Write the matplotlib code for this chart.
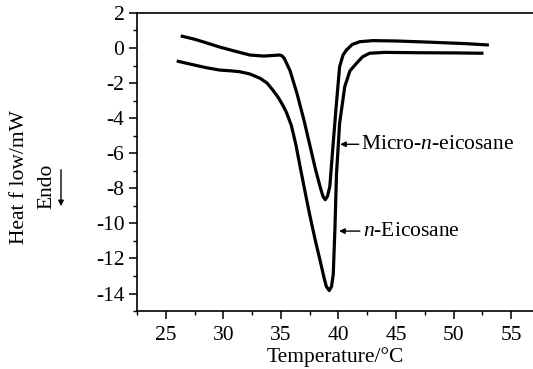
import matplotlib
matplotlib.use("Agg")
import matplotlib.pyplot as plt
from matplotlib.ticker import MultipleLocator

plt.rcParams['font.family'] = ['Liberation Serif', 'DejaVu Serif']
plt.rcParams['mathtext.fontset'] = 'custom'
plt.rcParams['mathtext.it'] = 'Liberation Serif:italic'
plt.rcParams['mathtext.rm'] = 'Liberation Serif'

# Micro-n-eicosane (upper curve)
micro_t = [26.3, 27.5, 28.5, 29.7, 31.0, 32.3, 33.5, 34.5, 34.9, 35.1, 35.3,
           35.8, 36.4, 37.0, 37.5, 38.0, 38.4, 38.65, 38.85, 39.05, 39.25,
           39.5, 39.8, 40.1, 40.4, 40.7, 41.2, 41.85, 43.0, 45.0, 48.0, 51.0, 53.07]
micro_h = [0.69, 0.5, 0.3, 0.05, -0.18, -0.4, -0.46, -0.42, -0.4, -0.45, -0.6,
           -1.3, -2.6, -4.1, -5.5, -6.9, -7.9, -8.45, -8.65, -8.45, -7.9,
           -5.8, -3.35, -1.07, -0.4, -0.11, 0.2, 0.36, 0.42, 0.4, 0.33, 0.25, 0.17]

# n-Eicosane (lower curve)
eico_t = [25.95, 27.0, 28.5, 29.7, 30.6, 31.4, 32.3, 33.2, 33.8, 34.3, 34.8,
          35.2, 35.5, 35.9, 36.3, 36.65, 37.1, 37.5, 38.0, 38.4, 38.75, 38.95,
          39.2, 39.4, 39.55, 39.7, 39.83, 40.1, 40.55, 41.0, 41.56, 42.1, 42.7,
          44.0, 47.0, 50.0, 52.6]
eico_h = [-0.74, -0.9, -1.12, -1.26, -1.3, -1.35, -1.48, -1.73, -2.0, -2.4, -2.85,
          -3.3, -3.7, -4.4, -5.5, -6.7, -8.2, -9.5, -11.0, -12.1, -13.1, -13.6,
          -13.83, -13.6, -12.9, -10.2, -7.2, -4.3, -2.2, -1.3, -0.88, -0.5, -0.3,
          -0.25, -0.27, -0.28, -0.3]

fig = plt.figure(figsize=(5.33, 3.69), dpi=100)
ax = fig.add_axes([0.257, 0.157, 0.743, 0.808])

ax.plot(micro_t, micro_h, color='black', lw=2.3, solid_capstyle='butt')
ax.plot(eico_t, eico_h, color='black', lw=2.3, solid_capstyle='butt')

ax.set_xlim(22.5, 56.9)
ax.set_ylim(-15, 2)
ax.xaxis.set_major_locator(MultipleLocator(5))
ax.xaxis.set_minor_locator(MultipleLocator(2.5))
ax.yaxis.set_major_locator(MultipleLocator(2))
ax.yaxis.set_minor_locator(MultipleLocator(1))
ax.spines['right'].set_visible(False)
for s in ['left', 'top', 'bottom']:
    ax.spines[s].set_linewidth(1.2)
ax.tick_params(which='major', direction='out', length=6, width=1.1, labelsize=15.5)
ax.tick_params(axis='x', which='major', pad=5)
ax.tick_params(axis='y', which='major', pad=3)
ax.tick_params(which='minor', direction='out', length=3, width=1.0)
ax.set_yticklabels([f"{int(v)}" for v in ax.get_yticks()])

ax.set_xlabel('Temperature/\u00b0C', fontsize=15.5, labelpad=1)

ax.annotate('Micro-$n$-eicosane', xy=(40.15, -5.49), xytext=(42.0, -5.49),
            fontsize=15.5, va='center', ha='left',
            arrowprops=dict(arrowstyle='-|>', color='black', lw=1.0,
                            mutation_scale=8, shrinkA=0, shrinkB=0))
ax.annotate('$n$-Eicosane', xy=(40.06, -10.44), xytext=(42.1, -10.44),
            fontsize=15.5, va='center', ha='left',
            arrowprops=dict(arrowstyle='-|>', color='black', lw=1.0,
                            mutation_scale=8, shrinkA=0, shrinkB=0))

fig.text(20 / 533, 1 - 177 / 369, 'Heat f low/mW', rotation=90, fontsize=15.5,
         ha='center', va='center')
fig.text(47 / 533, 1 - 186 / 369, 'Endo', rotation=90, fontsize=15.5,
         ha='center', va='center')
fig.add_artist(matplotlib.patches.FancyArrowPatch(
    (61 / 533, 1 - 167 / 369), (61 / 533, 1 - 209 / 369),
    transform=fig.transFigure, arrowstyle='-|>', mutation_scale=8,
    color='black', lw=1.0))

fig.savefig('out.png', dpi=100)
